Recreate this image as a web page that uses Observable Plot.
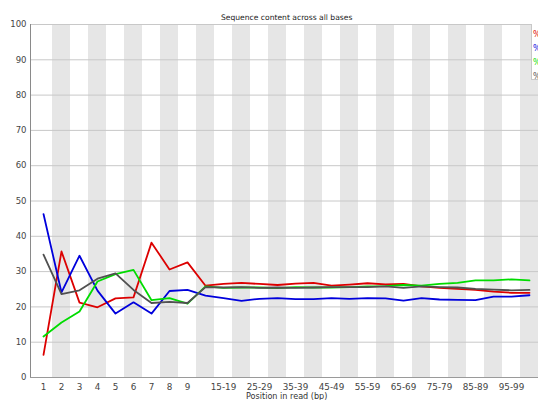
<!DOCTYPE html>
<html>
<head>
<meta charset="utf-8">
<script src="https://cdn.jsdelivr.net/npm/d3@7"></script>
<script src="https://cdn.jsdelivr.net/npm/@observablehq/plot@0.6"></script>
<style>
  html, body { margin: 0; padding: 0; overflow: hidden; background: #fff; }
  #wrap { position: relative; width: 538px; height: 400px; overflow: hidden; }
  #wrap svg { max-width: none !important; display: block; }
  #legend { position: absolute; left: 531px; top: 24px; width: 40px; height: 56px;
    background: #fff; border-left: 1px solid #c8c8c8; border-bottom: 1px solid #c8c8c8;
    font-family: "DejaVu Sans", sans-serif; font-size: 8px; line-height: 14px; padding-top: 4px; box-sizing: border-box; }
  #legend div { padding-left: 1px; }
</style>
</head>
<body>
<div id="wrap"></div>
<script>
const categories = ["1","2","3","4","5","6","7","8","9","10-14","15-19","20-24","25-29","30-34","35-39","40-44","45-49","50-54","55-59","60-64","65-69","70-74","75-79","80-84","85-89","90-94","95-99","100-101"];
const pctT = [6.4,35.7,21.2,19.9,22.4,22.7,38.2,30.6,32.6, 26.0,26.5,26.8,26.5,26.2,26.6,26.8,26.0,26.3, 26.7,26.4,26.5,25.8,25.4,25.1,24.8,24.3,24.0,24.0];
const pctC = [46.3,24.1,34.5,24.6,18.1,21.3,18.1,24.5,24.8, 23.2,22.5,21.7,22.3,22.5,22.2,22.2,22.5,22.3, 22.5,22.4,21.8,22.5,22.1,22.0,21.9,22.9,22.9,23.3];
const pctA = [11.6,15.6,18.7,27.2,29.3,30.5,21.9,22.5,20.9, 25.8,25.4,25.5,25.5,25.3,25.6,25.5,25.5,25.6, 25.8,25.9,26.2,26.0,26.5,26.8,27.5,27.5,27.8,27.5];
const pctG = [34.8,23.6,24.7,28.0,29.5,24.8,21.1,21.4,21.1, 25.6,25.5,25.6,25.4,25.5,25.4,25.5,25.6,25.6, 25.6,25.8,25.4,25.8,25.6,25.5,25.1,24.9,24.7,24.8];
const seriesNames = ["%T","%C","%A","%G"];
const seriesColors = ["#dc0000","#0000dc","#00dc00","#505050"];
const yTicks = [0,10,20,30,40,50,60,70,80,90,100];
const title = "Sequence content across all bases";
const xLabel = "Position in read (bp)";

const seriesValues = [pctT, pctC, pctA, pctG];
const rows = [];
seriesNames.forEach((s, k) => seriesValues[k].forEach((v, i) => rows.push({series: s, pos: categories[i], value: v})));
const shaded = categories.filter((c, i) => i % 2 === 1);

const chart = Plot.plot({
  width: 560,
  height: 400,
  marginLeft: 30,
  marginRight: 17.6,
  marginTop: 24,
  marginBottom: 23,
  style: {fontFamily: "'DejaVu Sans', sans-serif", fontSize: "8.5px", color: "#444", background: "#fff", maxWidth: "none"},
  x: {type: "band", domain: categories, padding: 0, label: null},
  y: {domain: [0, 100], label: null},
  color: {domain: seriesNames, range: seriesColors},
  marks: [
    Plot.cell(shaded, {x: d => d, fill: "#e6e6e6"}),
    Plot.ruleY(yTicks, {stroke: "#c8c8c8", strokeWidth: 1}),
    Plot.axisY({ticks: yTicks, tickSize: 0, tickPadding: 4, label: null}),
    Plot.axisX({tickSize: 0, tickPadding: 6, label: null, fontSize: 8.8,
      tickFormat: (d) => (categories.indexOf(d) < 9 || categories.indexOf(d) % 2 === 0) ? d : ""}),
    Plot.frame({anchor: "left", stroke: "#8a8a8a"}),
    Plot.ruleY([0], {stroke: "#9a9a9a"}),
    Plot.line(rows, {x: "pos", y: "value", z: "series", stroke: "series", strokeWidth: 1.8}),
    Plot.text([title], {frameAnchor: "top", dy: -10, text: d => d, fill: "#222", fontSize: 7.6}),
    Plot.text([xLabel], {frameAnchor: "bottom", dy: 21, text: d => d, fill: "#333", fontSize: 8.1})
  ]
});
const wrap = document.getElementById("wrap");
wrap.appendChild(chart);
const legend = document.createElement("div");
legend.id = "legend";
seriesNames.forEach((s, k) => {
  const d = document.createElement("div");
  d.textContent = s;
  d.style.color = seriesColors[k];
  legend.appendChild(d);
});
wrap.appendChild(legend);
</script>
</body>
</html>
